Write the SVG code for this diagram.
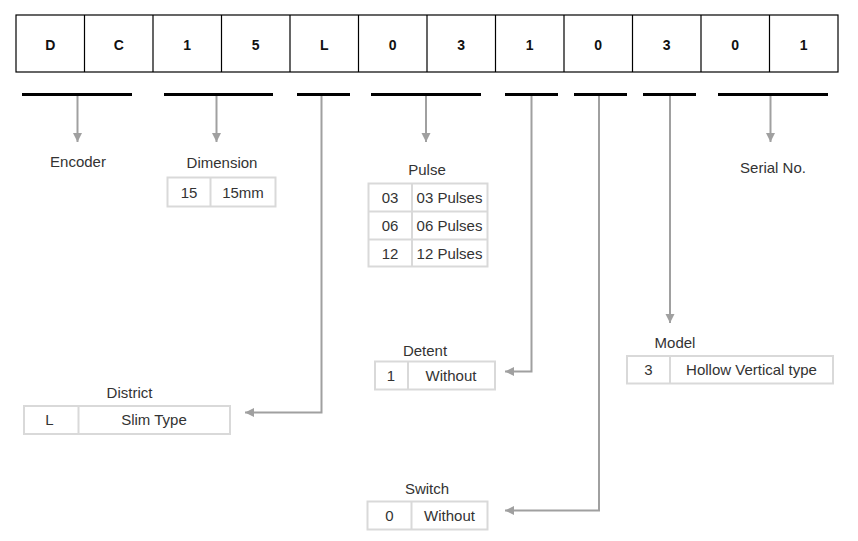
<svg xmlns="http://www.w3.org/2000/svg" width="858" height="541" viewBox="0 0 858 541">
<defs>
<marker id="ah" markerUnits="userSpaceOnUse" markerWidth="10" markerHeight="10" refX="9" refY="4.5" orient="auto">
<path d="M0,0 L9,4.5 L0,9 Z" fill="#a0a0a0"/>
</marker>
</defs>
<style>
.code{font-family:"Liberation Sans",Arial,sans-serif;font-size:14px;font-weight:bold;fill:#111;text-anchor:middle}
.lbl{font-family:"Liberation Sans",Arial,sans-serif;font-size:15px;fill:#333;text-anchor:middle}
.cell{fill:#fff;stroke:#d9d9d9;stroke-width:2}
.div{stroke:#d9d9d9;stroke-width:2}
.bar{stroke:#000;stroke-width:3}
.conn{fill:none;stroke:#a0a0a0;stroke-width:2;marker-end:url(#ah)}
.grid{fill:none;stroke:#000;stroke-width:1.2}
</style>
<rect width="858" height="541" fill="#fff"/>
<g id="code-row">
<rect class="grid" x="16" y="15" width="822" height="57"/>
<path class="grid" d="M84.5,15V72M153,15V72M221.5,15V72M290,15V72M358.5,15V72M427,15V72M495.5,15V72M564,15V72M632.5,15V72M701,15V72M769.5,15V72"/>
<text class="code" x="50.25" y="50">D</text>
<text class="code" x="118.75" y="50">C</text>
<text class="code" x="187.25" y="50">1</text>
<text class="code" x="255.75" y="50">5</text>
<text class="code" x="324.25" y="50">L</text>
<text class="code" x="392.75" y="50">0</text>
<text class="code" x="461.25" y="50">3</text>
<text class="code" x="529.75" y="50">1</text>
<text class="code" x="598.25" y="50">0</text>
<text class="code" x="666.75" y="50">3</text>
<text class="code" x="735.25" y="50">0</text>
<text class="code" x="803.75" y="50">1</text>
</g>
<g id="bars">
<line class="bar" x1="22" y1="94.5" x2="132" y2="94.5"/>
<line class="bar" x1="164" y1="94.5" x2="273" y2="94.5"/>
<line class="bar" x1="297" y1="94.5" x2="350" y2="94.5"/>
<line class="bar" x1="371" y1="94.5" x2="481" y2="94.5"/>
<line class="bar" x1="505" y1="94.5" x2="558" y2="94.5"/>
<line class="bar" x1="574" y1="94.5" x2="627" y2="94.5"/>
<line class="bar" x1="643" y1="94.5" x2="696" y2="94.5"/>
<line class="bar" x1="718" y1="94.5" x2="828" y2="94.5"/>
</g>
<g id="connectors">
<path class="conn" d="M77.5,96V142"/>
<path class="conn" d="M216.5,96V142"/>
<path class="conn" d="M321.5,96V412.5H245"/>
<path class="conn" d="M426,96V142"/>
<path class="conn" d="M531.5,96V371.5H505"/>
<path class="conn" d="M599,96V510.5H505"/>
<path class="conn" d="M670,96V323"/>
<path class="conn" d="M770.5,96V142"/>
</g>
<g id="encoder">
<text class="lbl" x="78" y="167">Encoder</text>
</g>
<g id="dimension">
<text class="lbl" x="222" y="168">Dimension</text>
<rect class="cell" x="167.5" y="177.5" width="108" height="29"/>
<line class="div" x1="210.5" y1="177.5" x2="210.5" y2="206.5"/>
<text class="lbl" x="189" y="198">15</text>
<text class="lbl" x="243" y="198">15mm</text>
</g>
<g id="pulse">
<text class="lbl" x="427" y="175">Pulse</text>
<rect class="cell" x="368.5" y="183.5" width="119" height="83"/>
<line class="div" x1="368.5" y1="211.5" x2="487.5" y2="211.5"/>
<line class="div" x1="368.5" y1="239.5" x2="487.5" y2="239.5"/>
<line class="div" x1="412" y1="183.5" x2="412" y2="266.5"/>
<text class="lbl" x="390" y="203">03</text>
<text class="lbl" x="449.5" y="203">03 Pulses</text>
<text class="lbl" x="390" y="231">06</text>
<text class="lbl" x="449.5" y="231">06 Pulses</text>
<text class="lbl" x="390" y="259">12</text>
<text class="lbl" x="449.5" y="259">12 Pulses</text>
</g>
<g id="serial">
<text class="lbl" x="773" y="173">Serial No.</text>
</g>
<g id="detent">
<text class="lbl" x="425" y="356">Detent</text>
<rect class="cell" x="375" y="361.5" width="120" height="28"/>
<line class="div" x1="408" y1="361.5" x2="408" y2="389.5"/>
<text class="lbl" x="391" y="381">1</text>
<text class="lbl" x="451" y="381">Without</text>
</g>
<g id="model">
<text class="lbl" x="675" y="348">Model</text>
<rect class="cell" x="627" y="356" width="206" height="27.5"/>
<line class="div" x1="670" y1="356" x2="670" y2="383.5"/>
<text class="lbl" x="648.5" y="375">3</text>
<text class="lbl" x="751.5" y="375">Hollow Vertical type</text>
</g>
<g id="district">
<text class="lbl" x="129.5" y="398">District</text>
<rect class="cell" x="24" y="406" width="206" height="28"/>
<line class="div" x1="78.5" y1="406" x2="78.5" y2="434"/>
<text class="lbl" x="49.5" y="425">L</text>
<text class="lbl" x="154" y="425">Slim Type</text>
</g>
<g id="switch">
<text class="lbl" x="427" y="494">Switch</text>
<rect class="cell" x="367.5" y="501.5" width="120" height="28"/>
<line class="div" x1="411.5" y1="501.5" x2="411.5" y2="529.5"/>
<text class="lbl" x="389.5" y="521">0</text>
<text class="lbl" x="449.5" y="521">Without</text>
</g>
</svg>
